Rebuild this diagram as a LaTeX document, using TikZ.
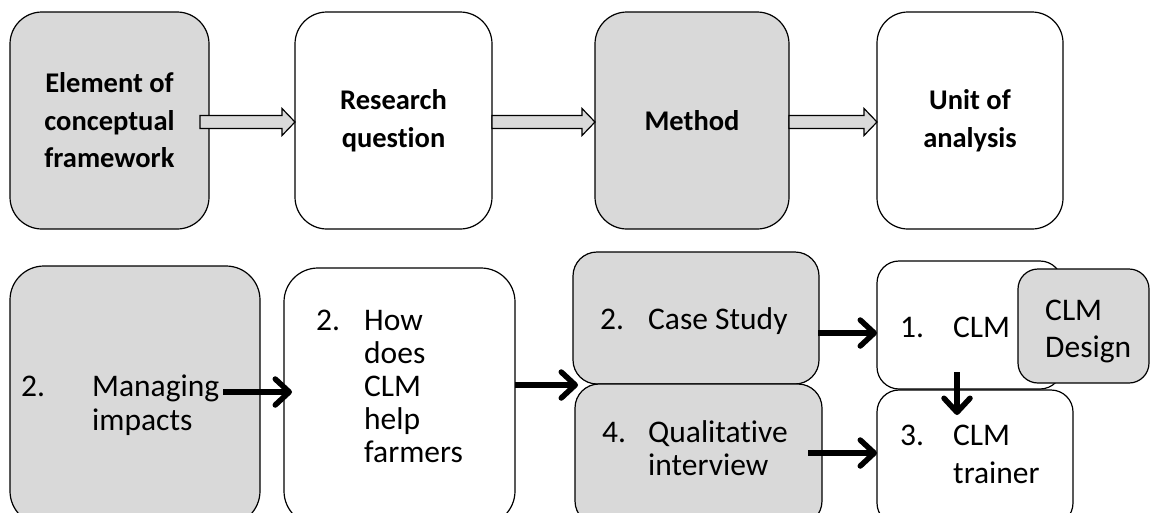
\documentclass[tikz,border=0pt]{standalone}
\usepackage{fontspec}
\setmainfont[Ligatures=NoCommon]{Carlito}
\usetikzlibrary{arrows.meta,calc}
\definecolor{boxgray}{HTML}{D9D9D9}
\tikzset{
  x=1pt, y=-1pt,
  panel/.style={draw=black, line width=1.2pt, inner sep=0pt, outer sep=0pt,
    anchor=north west},
  graypanel/.style={panel, fill=boxgray},
  whitepanel/.style={panel, fill=white},
  headtext/.style={align=center, inner sep=0pt,
    font=\bfseries\fontsize{28.5}{37.5}\selectfont},
  itemtext/.style={anchor=base west, inner sep=0pt},
  blockarrow/.style={draw=black, line width=1.2pt, fill=boxgray, line join=miter},
  thickarrow/.style={line width=5.5pt,
    -{Straight Barb[length=14pt,width=26pt,round]}}
}
% block arrow between two panels of the upper row
\newcommand\hollowarrow[3]{%
  \path[blockarrow] let \p1=(#1.east), \p2=(#2.west) in
    (\x1+#3,\y1-8pt) -- (\x2-13pt,\y1-8pt) -- (\x2-13pt,\y1-15pt) --
    (\x2,\y1-1.5pt) -- (\x2-13pt,\y1+12pt) -- (\x2-13pt,\y1+5pt) --
    (\x1+#3,\y1+5pt) -- cycle;}
\begin{document}
\begin{tikzpicture}
\useasboundingbox[fill=white] (0,0) rectangle (1150,512);

% upper row
\node[graypanel, minimum width=199pt, minimum height=217pt, rounded corners=32pt] (b1) at (10,12) {};
\node[whitepanel, minimum width=197pt, minimum height=217pt, rounded corners=32pt] (b2) at (295,12) {};
\node[graypanel, minimum width=194pt, minimum height=217pt, rounded corners=32pt] (b3) at (595,12) {};
\node[whitepanel, minimum width=186pt, minimum height=217pt, rounded corners=31pt] (b4) at (877,12) {};

\node[headtext] (h1) at (b1.center) {Element of\\conceptual\\framework};
\node[headtext] (h2) at (b2.center) {Research\\question};
\node[headtext] (h3) at (b3.center) {Method};
\node[headtext] (h4) at (b4.center) {Unit of\\analysis};

\hollowarrow{b1}{b2}{-9pt}
\hollowarrow{b2}{b3}{0pt}
\hollowarrow{b3}{b4}{0pt}

% lower row
\node[graypanel, minimum width=250pt, minimum height=259pt, rounded corners=34pt] (b5) at (10,266) {};
\node[whitepanel, minimum width=231pt, minimum height=257pt, rounded corners=34pt] (b6) at (284,268) {};
\node[graypanel, minimum width=246pt, minimum height=132pt, rounded corners=24pt] (b7) at (573,252) {};
\node[graypanel, minimum width=247pt, minimum height=141pt, rounded corners=24pt] (b8) at (575,384) {};
\node[whitepanel, minimum width=185pt, minimum height=128pt, rounded corners=22pt] (b9) at (877,261) {};
\node[whitepanel, minimum width=196pt, minimum height=135pt, rounded corners=22pt] (b10) at (877,390) {};
\node[graypanel, minimum width=131pt, minimum height=114pt, rounded corners=20pt] (b11) at (1018,269) {};

\node[itemtext, font=\fontsize{31.5}{34}\selectfont] (t5) at (21,396)
  {\begin{tabular}[t]{@{}p{71pt}@{}l@{}}2.&Managing\\&impacts\end{tabular}};
\node[itemtext, font=\fontsize{31.5}{33}\selectfont] (t6) at (316,330)
  {\begin{tabular}[t]{@{}p{48pt}@{}l@{}}2.&How\\&does\\&CLM\\&help\\&farmers\end{tabular}};
\node[itemtext, font=\fontsize{31.5}{33}\selectfont] (t7) at (600,329)
  {\begin{tabular}[t]{@{}p{48pt}@{}l@{}}2.&Case Study\end{tabular}};
\node[itemtext, font=\fontsize{31.5}{33}\selectfont] (t8) at (602,442)
  {\begin{tabular}[t]{@{}p{46pt}@{}l@{}}4.&Qualitative\\&interview\end{tabular}};
\node[itemtext, font=\fontsize{31.5}{38}\selectfont] (t9) at (900,337)
  {\begin{tabular}[t]{@{}p{53pt}@{}l@{}}1.&CLM\end{tabular}};
\node[itemtext, font=\fontsize{31.5}{38}\selectfont] (t10) at (900,445)
  {\begin{tabular}[t]{@{}p{53pt}@{}l@{}}3.&CLM\\&trainer\end{tabular}};
\node[itemtext, font=\fontsize{31.5}{37}\selectfont] (t11) at (1045,320)
  {\begin{tabular}[t]{@{}l@{}}CLM\\Design\end{tabular}};

% connectors of the lower row
\coordinate (m1s) at ($(b5.east)+(-37,-3.5)$);
\draw[thickarrow, shorten >=-8pt] (m1s) -- (m1s -| b6.west);
\coordinate (m2s) at ($(b6.east)+(0,-11.5)$);
\draw[thickarrow, shorten >=-5pt] (m2s) -- (m2s -| b7.west);
\coordinate (m3s) at ($(b7.east)+(-1,15)$);
\draw[thickarrow] (m3s) -- (m3s -| b9.west);
\coordinate (m4s) at ($(b8.east)+(-14,-1.5)$);
\draw[thickarrow] (m4s) -- (m4s -| b10.west);
\coordinate (m5s) at ($(b9.south)+(-12.5,-17)$);
\draw[thickarrow, shorten >=-25pt] (m5s) -- (m5s |- b10.north);
\end{tikzpicture}
\end{document}
